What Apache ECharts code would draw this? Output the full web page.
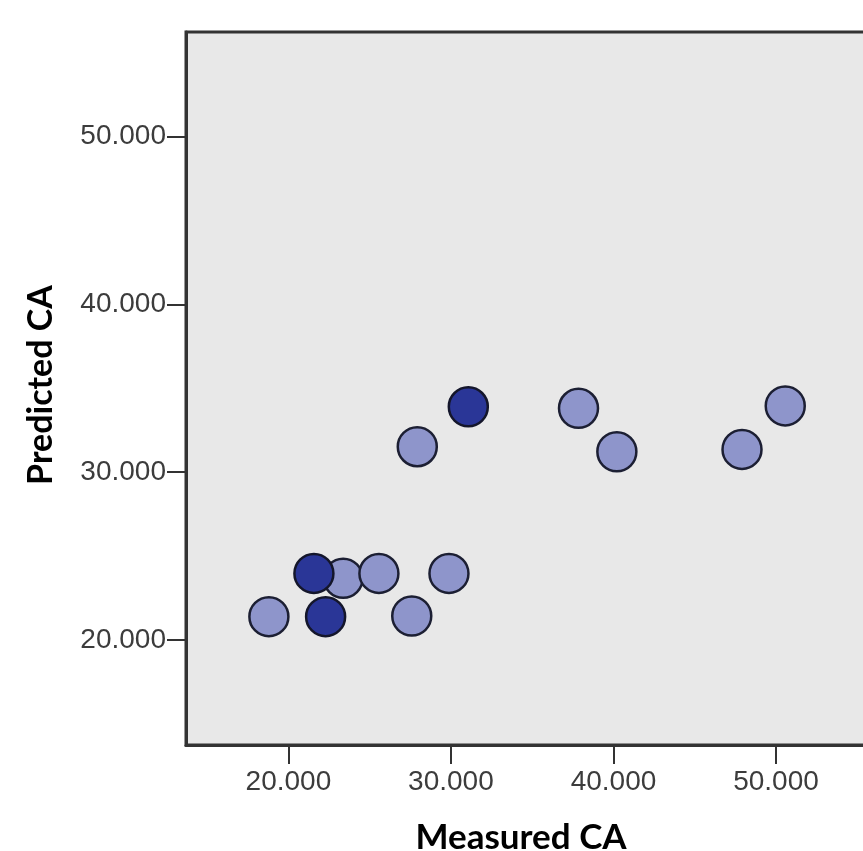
<!doctype html>
<html>
<head>
<meta charset="UTF-8">
<title>Measured vs Predicted CA</title>
<script src="https://cdn.jsdelivr.net/npm/echarts@6/dist/echarts.min.js"></script>
<style>
  html, body { margin: 0; padding: 0; background: #fff; }
  #main { width: 863px; height: 851px; }
</style>
</head>
<body>
<div id="main"></div>
<script>
// light points (measured, predicted)
var lightMeasured  = [18.80, 23.37, 25.57, 27.59, 29.88, 27.93, 37.85, 40.21, 47.91, 50.57];
var lightPredicted = [21.39, 23.68, 23.97, 21.43, 23.97, 31.52, 33.81, 31.22, 31.36, 33.95];
// dark points
var darkMeasured  = [22.29, 21.57, 31.07];
var darkPredicted = [21.39, 23.97, 33.90];
var tickValues = [20, 30, 40, 50];

function pairs(xs, ys) {
  var out = [];
  for (var i = 0; i < xs.length; i++) out.push([xs[i], ys[i]]);
  return out;
}

var labelFmt = function (v) { return v.toFixed(3); };

var myChart = echarts.init(document.getElementById('main'));
var option = {
  backgroundColor: '#ffffff',
  animation: false,
  grid: {
    left: 186, top: 32, width: 720, height: 713,
    outerBoundsMode: 'none',
    containLabel: false,
    show: true,
    backgroundColor: '#e8e8e8',
    borderColor: '#333333',
    borderWidth: 3
  },
  xAxis: {
    type: 'value',
    min: 13.7, max: 58.0,
    splitLine: { show: false },
    axisLine: { show: true, lineStyle: { color: '#333333', width: 3 } },
    axisTick: { show: true, length: 19, customValues: tickValues, lineStyle: { color: '#333333', width: 2 } },
    axisLabel: {
      customValues: tickValues, formatter: labelFmt, margin: 23,
      color: '#3c3c3c', fontSize: 28, fontFamily: 'Liberation Sans'
    }
  },
  yAxis: {
    type: 'value',
    min: 13.74, max: 56.24,
    splitLine: { show: false },
    axisLine: { show: true, lineStyle: { color: '#333333', width: 3 } },
    axisTick: { show: true, length: 19, customValues: tickValues, lineStyle: { color: '#333333', width: 2 } },
    axisLabel: {
      customValues: tickValues, formatter: labelFmt, margin: 20,
      color: '#3c3c3c', fontSize: 28, fontFamily: 'Liberation Sans'
    }
  },
  graphic: [
    {
      type: 'text', x: 521, y: 838,
      style: {
        text: 'Measured CA', fill: '#000', font: 'bold 35px Lato',
        align: 'center', verticalAlign: 'middle'
      }
    },
    {
      type: 'text', x: 41, y: 385, rotation: Math.PI / 2,
      style: {
        text: 'Predicted CA', fill: '#000', font: 'bold 34px Lato',
        align: 'center', verticalAlign: 'middle'
      }
    }
  ],
  series: [
    {
      name: 'light', type: 'scatter', symbolSize: 39,
      data: pairs(lightMeasured, lightPredicted),
      itemStyle: { color: '#8e95cb', borderColor: '#1c1f33', borderWidth: 2.5, opacity: 1 }
    },
    {
      name: 'dark', type: 'scatter', symbolSize: 39,
      data: pairs(darkMeasured, darkPredicted),
      itemStyle: { color: '#2a3697', borderColor: '#14162b', borderWidth: 2.5, opacity: 1 }
    }
  ]
};
myChart.setOption(option);
</script>
</body>
</html>
